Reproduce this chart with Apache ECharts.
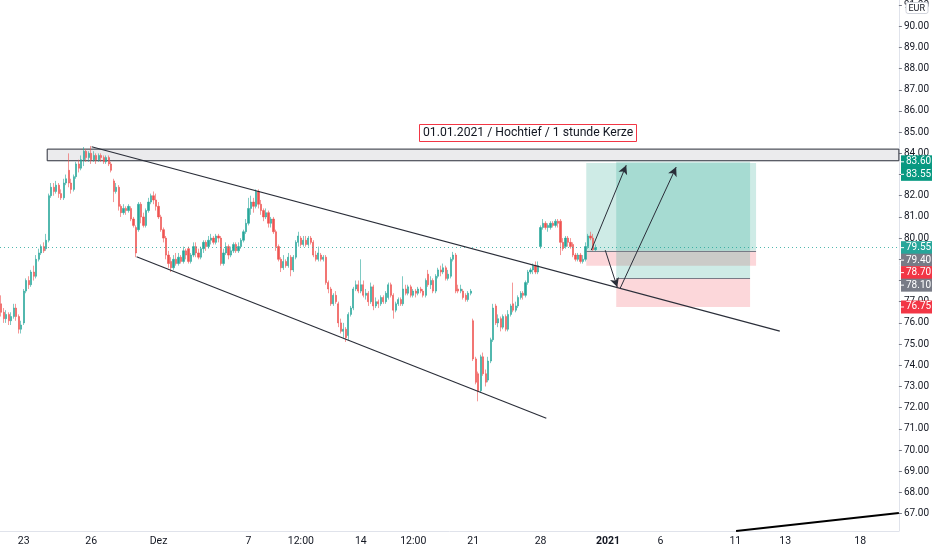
<!DOCTYPE html>
<html>
<head>
<meta charset="utf-8">
<script src="https://cdn.jsdelivr.net/npm/echarts@6/dist/echarts.min.js"></script>
<style>
html, body { margin: 0; padding: 0; background: #fff; }
#chart { width: 932px; height: 550px; }
</style>
</head>
<body>
<div id="chart"></div>
<script>
// Hochtief, 1h Kerzen 20.11.2020 - 30.12.2020 (XETRA, 9 Kerzen pro Tag)
// jede Zeile: [open, close, low, high]
var candles = [
  // 20.11.
  [76.9,76.5,76.3,77.3],[76.5,76.2,76.0,76.7],[76.2,76.4,76.0,76.6],[76.4,76.1,75.9,76.5],[76.1,76.3,75.9,76.5],
  [76.3,76.7,76.2,76.9],[76.7,76.3,76.1,76.9],[76.3,75.7,75.5,76.4],[75.7,75.9,75.5,76.1],
  // 23.11.
  [76.0,77.5,75.9,77.6],[77.5,78.0,77.4,78.1],[78.0,77.8,77.6,78.2],[77.8,78.4,77.7,78.5],[78.4,78.2,78.0,78.7],
  [78.2,79.0,78.1,79.2],[79.0,79.3,78.9,79.5],[79.3,79.6,79.2,79.7],[79.6,79.4,79.3,79.8],
  // 24.11.
  [79.5,79.9,79.4,80.2],[79.9,82.0,79.8,82.1],[82.0,82.4,81.9,82.6],[82.4,82.2,82.0,82.6],[82.2,82.5,82.1,82.7],
  [82.5,82.1,81.9,82.6],[82.1,81.9,81.8,82.3],[81.9,82.6,81.8,82.8],[82.6,82.8,82.5,83.0],
  // 25.11.
  [83.2,82.6,82.4,84.0],[82.6,82.3,82.1,82.8],[82.3,82.9,82.2,83.0],[82.9,83.5,82.8,83.6],[83.5,83.3,83.1,83.7],
  [83.3,83.7,83.2,83.9],[83.7,84.1,83.4,84.3],[84.1,83.8,83.6,84.2],[83.8,84.0,83.6,84.1],
  // 26.11.
  [84.0,83.7,83.5,84.35],[83.7,83.9,83.6,84.1],[83.9,83.7,83.5,84.0],[83.7,83.9,83.6,84.0],[83.9,83.8,83.6,84.0],
  [83.8,83.6,83.5,83.9],[83.6,83.8,83.5,83.9],[83.8,83.5,83.4,83.9],[83.5,83.2,83.1,83.6],
  // 27.11.
  [82.7,82.2,81.7,82.8],[82.2,82.4,82.1,82.6],[82.4,81.5,81.3,82.5],[81.5,81.2,81.0,81.6],[81.2,81.4,81.1,81.6],
  [81.4,81.3,81.1,81.5],[81.3,81.5,81.2,81.6],[81.4,80.9,80.8,81.5],[80.9,80.6,80.5,81.0],
  // 30.11.
  [80.5,79.3,79.1,80.6],[80.4,81.6,80.3,81.7],[81.6,81.0,80.7,81.7],[81.0,80.6,80.5,81.2],[80.6,81.3,80.5,81.4],
  [81.3,81.7,81.2,81.9],[81.7,82.0,81.6,82.1],[82.0,81.8,81.6,82.2],[81.8,81.5,81.3,82.1],
  // 01.12.
  [81.5,81.0,80.9,81.7],[81.0,80.4,80.3,81.1],[80.4,80.0,79.8,80.5],[80.0,79.2,79.0,80.1],[79.2,78.8,78.6,79.4],
  [78.9,78.6,78.4,79.1],[78.6,79.0,78.5,79.2],[79.0,78.8,78.7,79.3],[78.8,79.1,78.7,79.3],
  // 02.12.
  [79.1,78.9,78.8,79.2],[78.9,79.4,78.8,79.6],[79.4,79.2,79.0,79.5],[79.5,78.9,78.8,79.6],[78.9,79.2,78.8,79.3],
  [79.2,79.6,79.1,79.8],[79.6,79.3,79.1,79.8],[79.3,79.1,79.0,79.5],[79.1,79.5,79.0,79.6],
  // 03.12.
  [79.5,79.8,79.3,79.9],[79.8,79.6,79.4,79.9],[79.6,79.9,79.5,80.1],[79.9,80.0,79.7,80.2],[80.0,79.8,79.7,80.1],
  [79.8,80.1,79.7,80.2],[80.1,80.0,79.8,80.2],[80.0,78.8,78.7,80.1],[78.8,79.3,78.7,79.5],
  // 04.12.
  [79.3,79.6,79.2,79.8],[79.6,79.2,79.0,79.7],[79.2,79.4,79.1,79.6],[79.4,79.7,79.3,79.8],[79.7,79.4,79.3,79.8],
  [79.4,79.6,79.3,79.8],[79.6,79.9,79.5,80.0],[79.9,80.3,79.8,80.4],[80.3,80.7,80.2,80.9],
  // 07.12.
  [80.7,81.4,80.6,81.9],[81.4,81.7,81.1,82.0],[81.7,81.5,81.2,81.9],[81.5,82.2,81.4,82.3],[82.2,81.6,81.4,82.3],
  [81.6,81.3,81.1,81.8],[81.3,81.0,80.8,81.4],[81.0,81.2,80.9,81.4],[81.2,80.7,80.5,81.3],
  // 08.12.
  [80.7,80.9,80.5,81.0],[80.9,80.3,80.2,81.0],[80.3,79.6,79.4,80.4],[79.6,79.0,78.9,79.7],[79.0,78.6,78.4,79.1],
  [78.6,78.9,78.5,79.2],[78.9,78.7,78.6,79.0],[78.7,79.1,78.6,79.3],[79.1,78.5,78.2,79.2],
  // 09.12.
  [78.5,79.1,78.4,79.2],[79.1,79.8,79.0,79.9],[79.8,80.1,79.6,80.3],[80.0,79.7,79.6,80.1],[79.7,79.9,79.6,80.1],
  [79.9,79.7,79.6,80.1],[79.7,80.0,79.6,80.1],[80.0,79.8,79.7,80.1],[79.8,79.2,79.1,79.9],
  // 10.12.
  [79.2,79.0,78.9,79.4],[79.0,79.3,78.9,79.6],[79.2,79.0,78.9,79.3],[79.0,79.1,78.9,79.2],[79.1,77.9,77.8,79.2],
  [77.9,77.6,77.4,78.0],[77.6,76.9,76.8,77.7],[76.9,77.3,76.8,77.4],[77.3,77.0,76.9,77.5],
  // 11.12.
  [76.9,76.0,75.8,77.0],[76.0,75.6,75.5,76.2],[75.6,75.7,75.3,76.0],[75.7,75.3,75.1,75.8],[75.4,76.4,75.2,76.5],
  [76.4,76.7,76.3,76.8],[76.7,77.6,76.6,77.7],[77.6,77.8,77.5,78.0],[77.8,77.5,77.4,78.0],
  // 14.12.
  [77.5,77.8,77.4,79.0],[77.8,77.3,77.2,78.0],[77.3,77.4,77.1,77.6],[77.4,77.0,76.8,77.5],[77.0,77.7,76.9,77.9],
  [77.7,76.8,76.6,77.8],[76.8,77.0,76.7,77.2],[77.0,76.9,76.7,77.1],[76.9,77.2,76.8,77.3],
  // 15.12.
  [77.2,77.0,76.9,77.3],[77.0,77.4,76.9,77.5],[77.2,77.8,77.1,77.9],[77.8,77.3,77.2,77.9],[77.3,76.6,76.2,77.4],
  [76.6,76.9,76.5,77.0],[76.9,77.1,76.8,77.2],[77.1,76.9,76.8,77.2],[76.9,77.6,76.8,78.2],
  // 16.12.
  [77.6,77.4,77.3,77.8],[77.4,77.7,77.3,77.8],[77.7,77.3,77.2,77.8],[77.3,77.5,77.2,77.6],[77.5,77.4,77.2,77.6],
  [77.4,77.6,77.3,77.7],[77.6,77.5,77.4,77.7],[77.5,77.3,77.2,77.6],[77.3,78.0,77.2,78.1],
  // 17.12.
  [78.3,77.8,77.7,78.5],[77.8,78.0,77.6,78.2],[78.0,77.5,77.4,78.1],[77.5,78.2,77.4,78.3],[78.2,78.5,78.1,78.6],
  [78.5,78.4,78.2,78.7],[78.4,78.6,78.3,78.8],[78.6,78.1,78.0,78.7],[78.1,78.3,78.0,78.5],
  // 18.12.
  [78.2,79.0,78.1,79.1],[79.0,79.2,78.9,79.35],[79.2,77.5,77.4,79.3],[77.6,77.5,77.4,77.8],[77.5,77.6,77.4,77.8],
  [77.5,77.2,77.1,77.6],[77.3,77.1,77.0,77.4],[77.1,77.4,77.0,77.5],[77.4,77.5,77.3,77.6],
  // 21.12.
  [76.1,74.3,74.2,76.2],[74.3,73.2,73.1,74.4],[73.6,72.8,72.3,73.7],[72.8,74.4,72.7,74.5],[74.4,73.6,73.5,74.6],
  [73.6,73.2,73.0,73.8],[73.3,74.2,73.2,74.4],[74.2,75.2,74.1,75.3],[75.2,76.7,75.1,76.9],
  // 22.12.
  [76.8,76.0,75.9,76.9],[76.0,76.2,75.8,76.4],[76.2,75.8,75.6,76.3],[75.8,76.3,75.7,76.4],[76.3,75.7,75.6,76.4],
  [75.7,76.4,75.6,76.6],[76.4,76.8,76.3,76.9],[76.9,76.6,76.5,77.9],[76.6,76.8,76.5,77.0],
  // 23.12.
  [76.8,77.2,76.7,77.3],[77.2,77.4,77.1,77.5],[77.4,77.3,77.1,77.5],[77.3,77.9,77.2,78.0],[77.9,78.4,77.8,78.5],
  [78.4,78.5,78.3,78.6],[78.5,78.7,78.3,78.8],[78.7,78.4,78.3,78.9],[78.4,78.7,78.3,78.9],
  // 28.12.
  [79.6,80.5,79.5,80.6],[80.5,80.7,80.4,80.9],[80.7,80.5,80.4,80.8],[80.5,80.6,80.3,80.7],[80.5,80.7,80.4,80.8],
  [80.7,80.6,80.5,80.8],[80.6,80.8,80.5,80.9],[80.8,80.7,80.5,80.9],[80.8,79.8,79.2,80.9],
  // 29.12.
  [79.8,79.5,79.4,80.0],[79.6,80.0,79.5,80.1],[80.0,79.8,79.6,80.1],[79.8,79.6,79.5,80.0],[79.7,79.2,79.1,79.8],
  [79.2,79.0,78.9,79.3],[79.0,79.2,78.9,79.3],[79.2,78.9,78.8,79.3],[78.9,79.0,78.8,79.2],
  // 30.12.
  [79.0,79.6,78.9,79.8],[79.6,80.1,79.5,80.2],[80.1,80.0,79.9,80.3],[80.0,79.45,79.4,80.2],[79.45,79.55,79.4,79.7]
];

var barCount = 360; // inkl. leere Zukunfts-Kerzen bis zur Preisachse
var tickIdx  = [9, 36, 63, 99, 120, 144, 165, 189, 216, 243, 264, 294, 314, 344];
var tickText = ['23', '26', 'Dez', '7', '12:00', '14', '12:00', '21', '28', '2021', '6', '11', '13', '18'];

var priceMin = 66.18;
var priceMax = 91.23;
var lastPrice = 79.55;

// Zeichnungen in [Kerzen-Index, Preis]
var zone       = [[18.4, 84.2], [359.5, 83.65]];
var upperTrend = [[36.2, 84.31], [311.8, 75.61]];
var lowerTrend = [[54.2, 79.12], [218.3, 71.5]];
var bottomLine = [[294.3, 66.18], [359.5, 67.03]];
// Long-Positionen: [x von, x bis, Einstieg, Ziel, Stop]
var positions = [
  [234.3, 302.3, 79.40, 83.55, 78.70],
  [246.3, 299.9, 78.10, 83.60, 76.75]
];
var arrows = [
  [[236.3, 79.43], [250.3, 83.44]],
  [[241.9, 79.43], [246.7, 77.69]],
  [[247.9, 77.64], [270.3, 83.35]]
];
// Preis-Schilder an der Achse
var tagPrices = [83.60, 83.55, 79.55, 79.40, 78.70, 78.10, 76.75];
var tagColors = ['#089981', '#089981', '#26a69a', '#787b86', '#f23645', '#787b86', '#f23645'];

var categories = [];
for (var i = 0; i < barCount; i++) categories.push(String(i));

var myChart = echarts.init(document.getElementById('chart'));

var areaData = [];
var entryLines = [];
positions.forEach(function (p) {
  areaData.push([{ coord: [p[0], p[2]], itemStyle: { color: 'rgba(8,153,129,0.2)' } }, { coord: [p[1], p[3]] }]);
  areaData.push([{ coord: [p[0], p[2]], itemStyle: { color: 'rgba(242,54,69,0.2)' } }, { coord: [p[1], p[4]] }]);
  entryLines.push([{ coord: [p[0], p[2]] }, { coord: [p[1], p[2]] }]);
});

function drawLine(pts, width, color) {
  return {
    type: 'line', xAxisIndex: 1, yAxisIndex: 0, data: pts, symbol: 'none', silent: true,
    lineStyle: { width: width, color: color }, z: 5
  };
}

var option = {
  animation: false,
  backgroundColor: '#ffffff',
  textStyle: { fontFamily: 'Roboto, sans-serif' },
  title: [{
    text: '01.01.2021 / Hochtief / 1 stunde Kerze',
    left: 419, top: 124,
    padding: [3, 4, 3, 4],
    borderColor: '#f23645', borderWidth: 1,
    backgroundColor: '#ffffff',
    textStyle: { fontSize: 12.2, fontWeight: 'normal', color: '#131722', fontFamily: 'Roboto' }
  }, {
    text: 'EUR',
    right: 4, top: 2,
    padding: [2, 3, 1, 3],
    borderColor: '#d1d4dc', borderWidth: 1, borderRadius: 2,
    backgroundColor: '#ffffff',
    textStyle: { fontSize: 9, fontWeight: 'normal', color: '#131722', fontFamily: 'Roboto' }
  }],
  grid: { left: 0, right: 32, top: 0, bottom: 19 },
  xAxis: [{
    type: 'category',
    data: categories,
    boundaryGap: true,
    axisLine: { onZero: false, lineStyle: { color: '#e0e3eb' } },
    axisTick: { show: false },
    splitLine: { show: false },
    axisLabel: {
      interval: function (idx) { return tickIdx.indexOf(idx) >= 0; },
      formatter: function (v, idx) {
        var k = tickIdx.indexOf(Number(v));
        if (k < 0) return '';
        return tickText[k] === '2021' ? '{b|2021}' : tickText[k];
      },
      rich: { b: { fontWeight: 'bold', fontSize: 10.5, color: '#131722' } },
      color: '#131722', fontSize: 10.5, margin: 5
    }
  }, {
    type: 'value', show: false, min: -0.5, max: barCount - 0.5,
    axisLine: { onZero: false }
  }],
  yAxis: [{
    type: 'value',
    position: 'right',
    min: priceMin, max: priceMax,
    splitNumber: 25, minInterval: 1, maxInterval: 1,
    axisLine: { show: true, onZero: false, lineStyle: { color: '#e0e3eb' } },
    axisTick: { show: true, length: 3, lineStyle: { color: '#787b86' } },
    splitLine: { show: false },
    axisLabel: {
      showMinLabel: false, showMaxLabel: false,
      formatter: function (v) { return v.toFixed(2); },
      color: '#131722', fontSize: 10, margin: 5
    }
  }],
  series: [
    {
      type: 'candlestick',
      data: candles,
      barWidth: 1.7,
      itemStyle: {
        color: '#26a69a', color0: '#ef5350',
        borderColor: '#26a69a', borderColor0: '#ef5350', borderWidth: 0.6
      },
      markLine: {
        silent: true, symbol: 'none', label: { show: false },
        lineStyle: { type: [1, 3], color: '#26a69a', width: 1, opacity: 0.8 },
        data: [{ yAxis: lastPrice }]
      },
      z: 3
    },
    {
      type: 'line', xAxisIndex: 1, yAxisIndex: 0, data: [], silent: true,
      markArea: {
        silent: true,
        itemStyle: { color: 'rgba(120,123,134,0.15)', borderColor: '#2a2e39', borderWidth: 1 },
        data: [[{ coord: zone[0] }, { coord: zone[1] }]]
      },
      z: 2
    },
    {
      type: 'line', xAxisIndex: 1, yAxisIndex: 0, data: [], silent: true,
      markArea: { silent: true, data: areaData },
      markLine: {
        silent: true, symbol: 'none', label: { show: false },
        lineStyle: { type: 'solid', color: '#787b86', width: 1 },
        data: entryLines
      },
      z: 1
    },
    drawLine(upperTrend, 1.2, '#2a2e39'),
    drawLine(lowerTrend, 1.2, '#2a2e39'),
    drawLine(bottomLine, 2, '#000000'),
    {
      type: 'line', xAxisIndex: 1, yAxisIndex: 0, data: [], silent: true,
      markLine: {
        silent: true, symbol: ['none', 'arrow'], symbolSize: [7, 9],
        label: { show: false },
        lineStyle: { type: 'solid', color: '#2a2e39', width: 1 },
        data: arrows.map(function (a) { return [{ coord: a[0] }, { coord: a[1] }]; })
      },
      z: 6
    }
  ]
};

myChart.setOption(option);

// Preis-Schilder an der rechten Achse, überlappende nach unten schieben
var tags = tagPrices.map(function (p, k) {
  return { p: p, c: tagColors[k], y: myChart.convertToPixel({ yAxisIndex: 0 }, p) };
});
tags.sort(function (a, b) { return a.y - b.y; });
for (var t = 1; t < tags.length; t++) {
  if (tags[t].y < tags[t - 1].y + 12.5) tags[t].y = tags[t - 1].y + 12.5;
}
var graphics = [];
tags.forEach(function (tg) {
  graphics.push({ type: 'rect', silent: true, z: 100, zlevel: 1, shape: { x: 901, y: tg.y - 6.5, width: 31, height: 13 }, style: { fill: tg.c } });
  graphics.push({ type: 'line', silent: true, z: 101, zlevel: 1, shape: { x1: 901, y1: tg.y, x2: 904, y2: tg.y }, style: { stroke: '#ffffff', lineWidth: 1 } });
  graphics.push({
    type: 'text', silent: true, z: 102, zlevel: 1, x: 906, y: tg.y,
    style: { text: tg.p.toFixed(2), fill: '#ffffff', font: '10px Roboto', verticalAlign: 'middle', textVerticalAlign: 'middle' }
  });
});
myChart.setOption({ graphic: graphics });
</script>
</body>
</html>
